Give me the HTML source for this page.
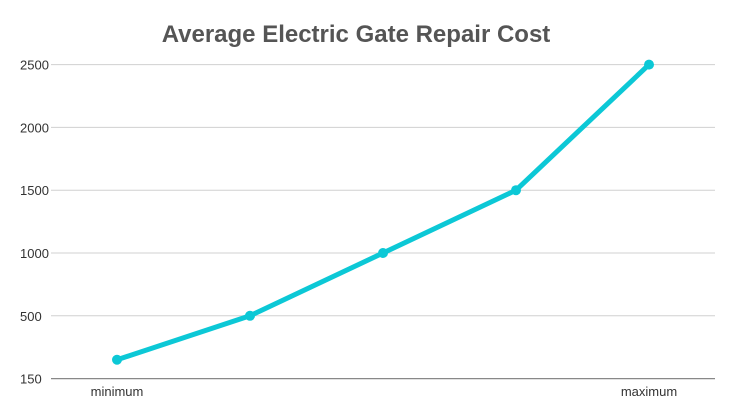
<!DOCTYPE html>
<html><head><meta charset="utf-8"><style>
html,body{margin:0;padding:0;background:#fff;}
svg{display:block;font-family:"Liberation Sans",sans-serif;}
</style></head><body>
<svg id="chart" width="730" height="405">
<text x="356" y="42" text-anchor="middle" font-size="24" font-weight="bold" fill="#555">Average Electric Gate Repair Cost</text>
<g id="grid"></g><g id="series"></g><g id="xlabels"></g>
</svg>
<script>
const categories=["minimum","","","","maximum"];
const values=[150,500,1000,1500,2500];
const tickValues=[0,500,1000,1500,2000,2500];
const tickLabels=["150","500","1000","1500","2000","2500"];
const NS="http://www.w3.org/2000/svg";
const y0=378.6,pxPer=62.8/500;
function yScale(v){return y0-v*pxPer;}
function xScale(i){return 117+i*133;}
function mk(t,a,p){const e=document.createElementNS(NS,t);for(const k in a)e.setAttribute(k,a[k]);p.appendChild(e);return e;}
const grid=document.getElementById('grid');
tickValues.forEach((v,i)=>{
 const y=yScale(v);
 const l=mk('line',{x1:51,x2:715,y1:y,y2:y,stroke:i==0?'#888':'#d0d0d0','stroke-width':i==0?1.3:1},grid);
 
 
 const t=mk('text',{x:20,y:y+5,'font-size':13,fill:'#333'},grid);
 t.textContent=tickLabels[i];
 
 
});
const s=document.getElementById('series');
const pts=values.map((v,i)=>xScale(i)+','+yScale(v)).join(' ');
const pl=mk('polyline',{points:pts,fill:'none',stroke:'#0cc8d6','stroke-width':5,'stroke-linejoin':'round','stroke-linecap':'round'},s);


values.forEach((v,i)=>{
 const c=mk('circle',{cx:xScale(i),cy:yScale(v),r:5,fill:'#0cc8d6'},s);
 
 
});
const xl=document.getElementById('xlabels');
categories.forEach((c,i)=>{
 if(!c)return;
 const t=mk('text',{x:xScale(i),y:396,'text-anchor':'middle','font-size':13,fill:'#333'},xl);
 t.textContent=c;
 
 
});
</script>
</body></html>
